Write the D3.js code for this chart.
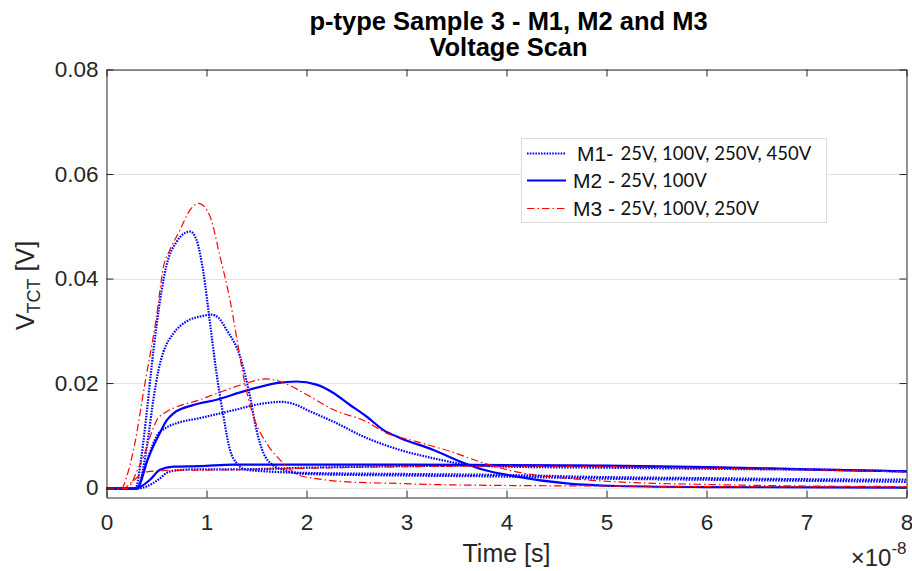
<!DOCTYPE html>
<html>
<head>
<meta charset="utf-8">
<script src="https://cdn.jsdelivr.net/npm/d3@7"></script>
<style>
  body { margin: 0; background: #fff; }
  svg { display: block; }
  text { font-family: "Liberation Sans", Arial, Helvetica, sans-serif; }
</style>
</head>
<body>
<svg id="chart" width="912" height="571"></svg>
<script>
// ---- Data (time in units of 1e-8 s, voltage in V) ----
const xTicks = [0, 1, 2, 3, 4, 5, 6, 7, 8];
const yTicks = [0, 0.02, 0.04, 0.06, 0.08];
const yTickLabels = ["0", "0.02", "0.04", "0.06", "0.08"];

const m1_25V = [[0,-0.0002],[0.3,-0.0002],[0.4,0.0002],[0.47,0.0009],[0.55,0.002],[0.6,0.0028],[0.7,0.0033],[0.9,0.0035],[1.3,0.0035],[2,0.0038],[3,0.0041],[4,0.0042],[5,0.0041],[6,0.0038],[7,0.0035],[8,0.0031]];
const m1_100V = [[0,-0.0002],[0.3,-0.0002],[0.37,0.003],[0.43,0.0065],[0.5,0.0098],[0.6,0.0115],[0.7,0.0123],[0.935,0.0133],[1.27,0.0148],[1.535,0.016],[1.75,0.0164],[1.9,0.0158],[2.0,0.0149],[2.27,0.0126],[2.6,0.0095],[2.935,0.0072],[3.27,0.0056],[3.6,0.0044],[4,0.004],[5,0.0038],[6,0.0036],[7,0.0034],[8,0.0031]];
const m1_250V = [[0,-0.0002],[0.32,-0.0001],[0.37,0.004],[0.42,0.01],[0.47,0.017],[0.52,0.0225],[0.57,0.026],[0.67,0.0295],[0.8,0.0318],[0.95,0.0328],[1.05,0.0331],[1.12,0.0325],[1.2,0.0302],[1.335,0.0251],[1.435,0.0174],[1.5,0.011],[1.57,0.0066],[1.65,0.0045],[1.8,0.0032],[2,0.0026],[3,0.0023],[4,0.0021],[5,0.0017],[6,0.0015],[7,0.0013],[8,0.0011]];
const m1_450V = [[0,-0.0002],[0.29,-0.0001],[0.35,0.006],[0.4,0.014],[0.45,0.023],[0.5,0.031],[0.6,0.0425],[0.7,0.047],[0.835,0.049],[0.9,0.0474],[0.97,0.041],[1.035,0.0315],[1.1,0.0219],[1.17,0.0136],[1.235,0.0072],[1.3,0.0047],[1.4,0.0034],[1.6,0.0031],[2,0.0028],[3,0.0026],[4,0.0024],[5,0.002],[6,0.0018],[7,0.0016],[8,0.0015]];

const m2_25V = [[0,-0.0002],[0.3,-0.0002],[0.335,0.0001],[0.435,0.0015],[0.535,0.0034],[0.67,0.004],[0.935,0.0041],[1.27,0.0044],[2,0.0044],[3,0.0044],[4,0.0043],[5,0.0042],[6,0.0039],[7,0.0035],[8,0.0031]];
const m2_100V = [[0,-0.0002],[0.3,-0.0002],[0.35,0.0015],[0.4,0.0047],[0.47,0.008],[0.535,0.0105],[0.6,0.0128],[0.67,0.0142],[0.87,0.0158],[1.1,0.0168],[1.37,0.0184],[1.7,0.02],[1.9,0.0203],[2.1,0.0197],[2.27,0.0181],[2.435,0.0158],[2.6,0.0136],[2.77,0.011],[2.935,0.0095],[3.27,0.0072],[3.535,0.005],[3.77,0.0034],[4.1,0.0021],[4.6,0.0008],[5.1,0.0003],[6,0.0001],[8,0.0]];

const m3_25V = [[0,-0.0002],[0.17,-0.0001],[0.25,0.001],[0.335,0.0024],[0.435,0.0031],[0.7,0.0033],[1.3,0.0034],[2,0.0037],[3,0.004],[4,0.0041],[5,0.004],[6,0.0037],[7,0.0034],[8,0.003]];
const m3_100V = [[0,-0.0002],[0.2,-0.0002],[0.25,0.0008],[0.3,0.003],[0.37,0.0059],[0.45,0.0105],[0.5,0.0128],[0.6,0.0145],[0.67,0.0152],[0.9,0.0166],[1.1,0.018],[1.37,0.0198],[1.6,0.0208],[1.8,0.0198],[2.0,0.0178],[2.27,0.0149],[2.6,0.0126],[2.77,0.0107],[3.1,0.0088],[3.44,0.0069],[3.77,0.0047],[4.1,0.003],[4.6,0.0018],[5.1,0.0011],[6,0.0006],[7,0.0003],[8,0.0002]];
const m3_250V = [[0,-0.0002],[0.15,-0.0002],[0.2,0.002],[0.27,0.0072],[0.385,0.02],[0.5,0.0327],[0.57,0.0423],[0.635,0.0455],[0.735,0.0493],[0.835,0.0531],[0.92,0.0544],[1.035,0.0519],[1.135,0.0442],[1.235,0.0359],[1.3,0.0289],[1.37,0.0212],[1.47,0.0136],[1.6,0.0085],[1.735,0.0053],[1.935,0.0023],[2.07,0.0018],[2.4,0.0011],[2.9,0.0008],[3.235,0.0006],[4,0.0004],[5,0.0003],[6,0.0002],[8,0.0001]];

const m1Series = [m1_25V, m1_100V, m1_250V, m1_450V];
const m2Series = [m2_25V, m2_100V];
const m3Series = [m3_25V, m3_100V, m3_250V];

const legendNames = ["M1-", "M2 -", "M3 -"];
const legendVoltages = ["25V, 100V, 250V, 450V", "25V, 100V", "25V, 100V, 250V"];

const titleLines = ["p-type Sample 3 - M1, M2 and M3", "Voltage Scan"];

// ---- Layout ----
const svg = d3.select("#chart");
const L = 106.5, R = 906.5, T = 69.5, B = 497.5;
const x = d3.scaleLinear().domain([0, 8]).range([L, R]);
const y = d3.scaleLinear().domain([-0.0019, 0.08]).range([B, T]);
const axisColor = "#262626";

// grid
svg.append("g").selectAll("line").data(yTicks).join("line")
  .attr("x1", L).attr("x2", R)
  .attr("y1", d => Math.round(y(d)) + 0.5).attr("y2", d => Math.round(y(d)) + 0.5)
  .attr("stroke", "#e3e3e3").attr("stroke-width", 1);

// curves
const line = d3.line().x(d => x(d[0])).y(d => y(d[1])).curve(d3.curveMonotoneX);
const gLines = svg.append("g");
gLines.selectAll(".m1").data(m1Series).join("path")
  .attr("d", line).attr("fill", "none").attr("stroke", "#0000ff")
  .attr("stroke-width", 2.2).attr("stroke-dasharray", "1.6,1.2");
gLines.selectAll(".m2").data(m2Series).join("path")
  .attr("d", line).attr("fill", "none").attr("stroke", "#0000ff")
  .attr("stroke-width", 2.2);
gLines.selectAll(".m3").data(m3Series).join("path")
  .attr("d", line).attr("fill", "none").attr("stroke", "#ff0000")
  .attr("stroke-width", 1.2).attr("stroke-dasharray", "7.5,3,1.5,3");

// axes (MATLAB style: ticks inward, box)
const axB = svg.append("g").attr("transform", `translate(0,${B})`)
  .call(d3.axisBottom(x).tickValues(xTicks).tickSizeInner(-7).tickSizeOuter(0).tickPadding(17));
const axT = svg.append("g").attr("transform", `translate(0,${T})`)
  .call(d3.axisTop(x).tickValues(xTicks).tickSizeInner(-7).tickSizeOuter(0).tickFormat(""));
const axL = svg.append("g").attr("transform", `translate(${L},0)`)
  .call(d3.axisLeft(y).tickValues(yTicks).tickSizeInner(-7).tickSizeOuter(0).tickPadding(8)
    .tickFormat((d, i) => yTickLabels[i]));
const axR = svg.append("g").attr("transform", `translate(${R},0)`)
  .call(d3.axisRight(y).tickValues(yTicks).tickSizeInner(-7).tickSizeOuter(0).tickFormat(""));
[axB, axT, axL, axR].forEach(g => {
  g.select(".domain").attr("stroke", axisColor).attr("stroke-width", 1);
  g.selectAll(".tick line").attr("stroke", axisColor).attr("stroke-width", 1);
  g.selectAll(".tick text").attr("fill", axisColor)
    .style("font-family", '"Liberation Sans", Arial, sans-serif').style("font-size", "22.5px");
});

// exponent label
const ex = svg.append("text").attr("x", R).attr("y", 566).attr("text-anchor", "end")
  .attr("fill", axisColor).style("font-size", "24px");
ex.append("tspan").text("\u00d710");
ex.append("tspan").attr("dy", -12).style("font-size", "17px").text("-8");

// axis labels
svg.append("text").attr("x", (L + R) / 2).attr("y", 562).attr("text-anchor", "middle")
  .attr("fill", axisColor).style("font-size", "25px").text("Time [s]");
const yl = svg.append("text").attr("transform", `translate(34,${(T + B) / 2 + 2}) rotate(-90)`)
  .attr("text-anchor", "middle").attr("fill", axisColor).style("font-size", "25px");
yl.append("tspan").text("V");
yl.append("tspan").attr("dy", 6).style("font-size", "18px").text("TCT");
yl.append("tspan").attr("dy", -6).text(" [V]");

// title
svg.append("g").selectAll("text").data(titleLines).join("text")
  .attr("x", (L + R) / 2 + 2).attr("y", (d, i) => 30 + i * 26)
  .attr("text-anchor", "middle").attr("fill", "#000")
  .style("font-size", "25.5px").style("font-weight", "bold").text(d => d);

// legend
const lg = svg.append("g");
lg.append("rect").attr("x", 521.5).attr("y", 138.5).attr("width", 305).attr("height", 84)
  .attr("fill", "#fff").attr("stroke", "#dcdcdc").attr("stroke-width", 1);
const legStyles = [
  { color: "#0000ff", w: 2.2, dash: "1.6,1.2" },
  { color: "#0000ff", w: 2.2, dash: null },
  { color: "#ff0000", w: 1.2, dash: "7.5,3,1.5,3" }
];
const legY = [153.5, 180.5, 208.5];
const legNameX = [577, 573, 573];
legendNames.forEach((nm, i) => {
  lg.append("line").attr("x1", 527).attr("x2", 566).attr("y1", legY[i]).attr("y2", legY[i])
    .attr("stroke", legStyles[i].color).attr("stroke-width", legStyles[i].w)
    .attr("stroke-dasharray", legStyles[i].dash);
  lg.append("text").attr("x", legNameX[i]).attr("y", legY[i] + 7.5)
    .attr("fill", "#111").style("font-size", "21px").text(nm);
  lg.append("text").attr("x", 620.5).attr("y", legY[i] + 6.5)
    .attr("fill", "#111").style("font-family", "Lato, 'Open Sans', sans-serif")
    .style("font-size", "18.5px").text(legendVoltages[i]);
});
</script>
</body>
</html>
